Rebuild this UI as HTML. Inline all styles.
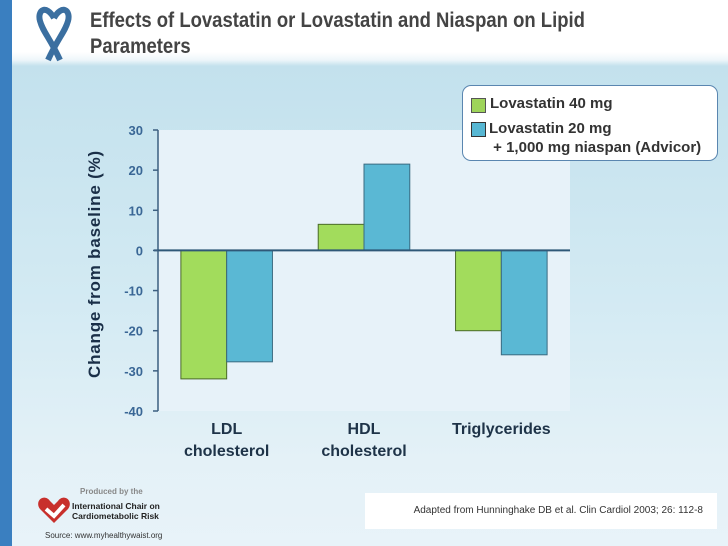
<!DOCTYPE html>
<html><head><meta charset="utf-8"><style>
body{margin:0;width:728px;height:546px;overflow:hidden;font-family:"Liberation Sans",sans-serif;}
#bg{position:absolute;left:0;top:0;width:728px;height:546px;background:linear-gradient(#ffffff 0,#ffffff 52px,#eef6fa 60px,#c3e1ed 66px,#d3eaf3 300px,#e4f1f7 460px,#e8f3f9 546px);}
#stripe{position:absolute;left:0;top:0;width:12px;height:546px;background:#3a7fc0;}
#title{position:absolute;left:90px;top:8px;font-size:21px;font-weight:bold;color:#444;line-height:26px;transform:scaleX(0.88);transform-origin:left;width:640px;}
</style></head><body>
<div id="bg"></div>
<div id="stripe"></div>
<svg style="position:absolute;left:36px;top:4px" width="36" height="58">
<path d="M18 14 C10 0 1 6 4 17 C7 28 14 34 24 56 M18 14 C26 0 35 6 32 17 C29 28 22 34 12 56" stroke="#3b6fa0" stroke-width="6" fill="none"/>
</svg>
<div id="title">Effects of Lovastatin or Lovastatin and Niaspan on Lipid Parameters</div>
<svg style="position:absolute;left:0;top:0" width="728" height="546" id="chart">
<rect x="158" y="130" width="412" height="281" fill="#e7f2f9"/>
<g id="grid"></g><g id="bars"></g><g id="axes"></g>
<text transform="translate(100,264) rotate(-90)" text-anchor="middle" font-size="17" font-weight="bold" fill="#1a2f48" letter-spacing="0.8">Change from baseline (%)</text>
</svg>
<div style="position:absolute;left:462px;top:85px;width:254px;height:74px;background:#fff;border:1.5px solid #5a86b0;border-radius:9px;font-size:15px;font-weight:bold;color:#333;">
<div style="position:absolute;left:8px;top:12px;width:13px;height:13px;background:#9ed45a;border:1px solid #555"></div>
<div style="position:absolute;left:27px;top:9px">Lovastatin 40 mg</div>
<div style="position:absolute;left:8px;top:36px;width:13px;height:13px;background:#57b7d3;border:1px solid #333"></div>
<div style="position:absolute;left:26px;top:33px;line-height:19px">Lovastatin 20 mg<br>&nbsp;+ 1,000 mg niaspan (Advicor)</div>
</div>
<div style="position:absolute;left:365px;top:493px;width:352px;height:36px;background:#fff;font-size:10px;color:#333;line-height:36px;text-align:right;box-sizing:border-box;padding-right:14px">Adapted from Hunninghake DB et al. Clin Cardiol 2003; 26: 112-8</div>
<svg style="position:absolute;left:36px;top:495px" width="36" height="30"><path d="M18 28 L4 14 C-2 6 8 -2 14 6 L18 10 L22 6 C28 -2 38 6 32 14 Z" fill="#c8302c"/><path d="M10 14 L18 21 L28 10" stroke="#fff" stroke-width="4" fill="none"/></svg>
<div style="position:absolute;left:80px;top:487px;font-size:8px;font-weight:bold;color:#888">Produced by the</div>
<div style="position:absolute;left:72px;top:501px;font-size:8.5px;font-weight:bold;color:#222;line-height:10px">International Chair on<br>Cardiometabolic Risk</div>
<div style="position:absolute;left:45px;top:531px;font-size:8px;color:#333">Source: www.myhealthywaist.org</div>
<script>
const categories=["LDL|cholesterol","HDL|cholesterol","Triglycerides"];
const lovastatin40=[-32,6.5,-20];
const advicor=[-27.75,21.5,-26];
const yTicks=[30,20,10,0,-10,-20,-30,-40];
const NS="http://www.w3.org/2000/svg";
const x0=158,x1=570,yTop=130,yBot=411,vMax=30,vMin=-40;
const y=v=>yTop+(vMax-v)*(yBot-yTop)/(vMax-vMin);
const cw=(x1-x0)/categories.length;
function mk(t,a,p){const e=document.createElementNS(NS,t);for(const k in a)e.setAttribute(k,a[k]);p.appendChild(e);return e;}
const bars=document.getElementById('bars'),axes=document.getElementById('axes'),chart=document.getElementById('chart');
categories.forEach((c,i)=>{
  const cx=x0+cw*(i+0.5),bw=cw/3;
  [[lovastatin40,'#a2dc5c','#4a6a2a',-1],[advicor,'#5ab8d4','#3a6a80',0]].forEach(([arr,f,s,o],j)=>{
    const v=arr[i];
    const r=mk('rect',{x:cx+o*bw,y:Math.min(y(v),y(0)),width:bw,height:Math.abs(y(v)-y(0)),fill:f,stroke:s,'stroke-width':1},bars);
    
    
  });
  c.split('|').forEach((ln,k)=>{
    const t=mk('text',{x:cx,y:434+k*22,'text-anchor':'middle','font-size':16,'font-weight':'bold',fill:'#1e3348'},chart);
    t.textContent=ln;
    
    
  });
});
mk('line',{x1:x0,y1:yTop,x2:x0,y2:yBot,stroke:'#3c5f80','stroke-width':1.5},axes);
mk('line',{x1:x0-4,y1:y(0),x2:x1,y2:y(0),stroke:'#2f5878','stroke-width':2},axes);
yTicks.forEach(v=>{
  mk('line',{x1:x0-5,y1:y(v),x2:x0,y2:y(v),stroke:'#3c5f80','stroke-width':1.5},axes);
  const t=mk('text',{x:x0-15,y:y(v)+5,'text-anchor':'end','font-size':13,'font-weight':'bold',fill:'#3a6796'},axes);
  t.textContent=v;
  
  
});
</script>
</body></html>
